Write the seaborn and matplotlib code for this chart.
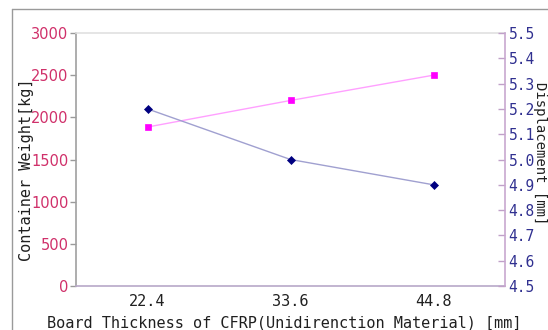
import matplotlib
matplotlib.use("Agg")
import matplotlib.pyplot as plt
import seaborn as sns
import pandas as pd
from matplotlib.lines import Line2D

thickness = ["22.4", "33.6", "44.8"]
weight = [1885, 2200, 2500]
displacement = [5.20, 5.00, 4.90]

sns.set_theme(style="white")
plt.rcParams['font.family'] = ['DejaVu Sans Mono', 'DejaVu Sans']

df = pd.DataFrame({"t": thickness, "w": weight, "d": displacement})

fig = plt.figure(figsize=(5.48, 3.30), dpi=100)
fig.patch.set_facecolor("white")
# outer frame (left + top edge visible)
fig.add_artist(Line2D([12/548, 12/548], [0, 1 - 9/330], color="#9a9a9a", lw=1.0, transform=fig.transFigure))
fig.add_artist(Line2D([12/548, 1], [1 - 9/330, 1 - 9/330], color="#9a9a9a", lw=1.0, transform=fig.transFigure))

ax = fig.add_axes([76/548, 1 - 286/330, (505 - 76)/548, (286 - 33)/330])
ax.set_facecolor("white")
sns.lineplot(data=df, x="t", y="w", ax=ax, color="#FFA0FF", lw=1.0,
             marker="s", markersize=4.2, markerfacecolor="#FF00FF", markeredgecolor="#FF00FF",
             markeredgewidth=0.5, sort=False)
ax.set_xlim(-0.5, 2.5)
ax.set_ylim(0, 3000)
ax.set_yticks([0, 500, 1000, 1500, 2000, 2500, 3000])
ax.tick_params(axis="y", direction="out", length=4, width=1, color="#9a9a9a",
               labelcolor="#D0306A", labelsize=10.5, pad=1.5, left=True)
ax.tick_params(axis="x", length=0, labelcolor="#202020", labelsize=11, pad=6)
for lab in ax.get_yticklabels():
    lab.set_family(["DejaVu Sans"])
ax.set_xlabel("Board Thickness of CFRP(Unidirenction Material) [mm]", fontsize=11, color="#202020", labelpad=2)
ax.set_ylabel("Container Weight[kg]", fontsize=11, color="#202020")
ax.yaxis.set_label_coords(-0.097, 0.46)
ax.xaxis.set_label_coords(0.485, -0.115)
ax.spines["left"].set_color("#a0a0a0")
ax.spines["bottom"].set_color("#b8a8c8")
ax.spines["top"].set_color("#e0e0e0")
ax.spines["right"].set_visible(False)
for s in ax.spines.values():
    s.set_linewidth(1.2)

ax2 = ax.twinx()
sns.lineplot(data=df, x="t", y="d", ax=ax2, color="#A0A0D0", lw=1.0,
             marker="D", markersize=3.8, markerfacecolor="#000080", markeredgecolor="#000080",
             markeredgewidth=0.5, sort=False)
ax2.set_xlim(-0.5, 2.5)
ax2.set_ylim(4.5, 5.5)
ax2.set_yticks([4.5, 4.6, 4.7, 4.8, 4.9, 5.0, 5.1, 5.2, 5.3, 5.4, 5.5])
ax2.set_yticklabels(["4.5", "4.6", "4.7", "4.8", "4.9", "5.0", "5.1", "5.2", "5.3", "5.4", "5.5"])
ax2.tick_params(axis="y", direction="in", length=5, width=1, color="#C0A0C8",
                labelcolor="#303090", labelsize=10.5, pad=2.5, right=True)
ax2.set_ylabel("Displacement [mm]", fontsize=10, color="#202020", rotation=-90)
ax2.yaxis.set_label_coords(1.097, 0.525)
for sp in ["left", "top", "bottom"]:
    ax2.spines[sp].set_visible(False)
ax2.spines["right"].set_color("#C8A8D0")
ax2.spines["right"].set_linewidth(1.2)

fig.savefig("out.png", dpi=100, facecolor="white")
